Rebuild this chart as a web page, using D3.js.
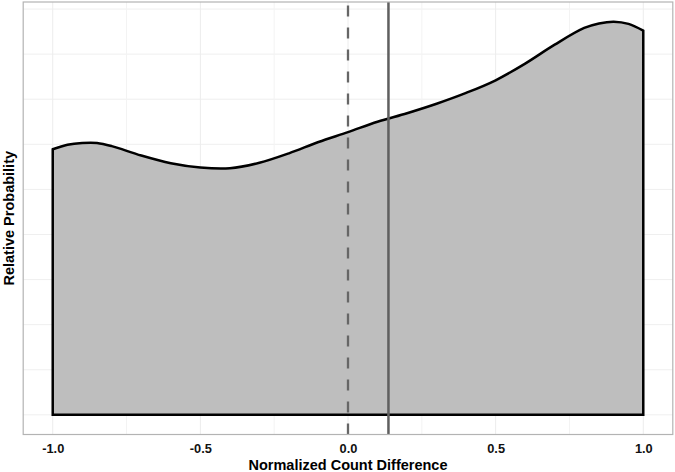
<!DOCTYPE html>
<html>
<head>
<meta charset="utf-8">
<script src="https://cdn.jsdelivr.net/npm/d3@7"></script>
<style>
  html, body { margin: 0; padding: 0; background: #ffffff; }
  svg { display: block; }
  text { font-family: "Liberation Sans", Arial, Helvetica, sans-serif; font-weight: bold; }
</style>
</head>
<body>
<svg id="chart" width="675" height="472"></svg>
<script>
// ---- data ----
const densX = [-1.0, -0.95, -0.9, -0.85, -0.8, -0.7, -0.6, -0.5, -0.4, -0.3, -0.2, -0.1, 0.0,
               0.1, 0.2, 0.3, 0.4, 0.5, 0.6, 0.7, 0.8, 0.85, 0.9, 0.95, 1.0];
const densY = [0.589, 0.599, 0.603, 0.603, 0.596, 0.575, 0.558, 0.5485, 0.547, 0.559, 0.580, 0.605, 0.627,
               0.650, 0.669, 0.690, 0.714, 0.742, 0.779, 0.821, 0.858, 0.868, 0.872, 0.867, 0.852];
const xTicks = [-1.0, -0.5, 0.0, 0.5, 1.0];
const xTickLabels = ["-1.0", "-0.5", "0.0", "0.5", "1.0"];
const xMinorTicks = [-0.75, -0.25, 0.25, 0.75];
const refDashed = 0.0;
const refSolid = 0.137;
const xTitle = "Normalized Count Difference";
const yTitle = "Relative Probability";

// ---- layout ----
const W = 675, H = 472;
const panel = { left: 23.2, right: 672.8, top: 2, bottom: 434.5 };

const svg = d3.select("#chart");

const x = d3.scaleLinear().domain([-1.1, 1.1]).range([panel.left, panel.right]);
const ymax = d3.max(densY);
const y = d3.scaleLinear().domain([-0.05 * ymax, 1.05 * ymax]).range([panel.bottom, panel.top]);

const pts = densX.map((d, i) => ({ x: d, y: densY[i] }));

// grid
const grid = svg.append("g");
grid.selectAll("line.hy").data(y.ticks(10).filter(v => v >= 0 && v <= 1.05 * ymax))
  .join("line")
  .attr("x1", panel.left).attr("x2", panel.right)
  .attr("y1", d => y(d)).attr("y2", d => y(d))
  .attr("stroke", "#efefef").attr("stroke-width", 1);
grid.selectAll("line.vminor").data(xMinorTicks)
  .join("line")
  .attr("x1", d => x(d)).attr("x2", d => x(d))
  .attr("y1", panel.top).attr("y2", panel.bottom)
  .attr("stroke", "#f3f3f3").attr("stroke-width", 1);
grid.selectAll("line.vmajor").data(xTicks)
  .join("line")
  .attr("class", "vmajor")
  .attr("x1", d => x(d)).attr("x2", d => x(d))
  .attr("y1", panel.top).attr("y2", panel.bottom)
  .attr("stroke", "#ececec").attr("stroke-width", 1);

// density area
const area = d3.area()
  .x(d => x(d.x))
  .y0(y(0))
  .y1(d => y(d.y))
  .curve(d3.curveCatmullRom.alpha(0.5));

svg.append("path")
  .datum(pts)
  .attr("d", area)
  .attr("fill", "#bebebe")
  .attr("stroke", "#000")
  .attr("stroke-width", 2.5)
  .attr("stroke-linejoin", "miter");

// reference lines (drawn bottom -> top so dashes start at the bottom)
svg.append("line")
  .attr("x1", x(refDashed)).attr("x2", x(refDashed))
  .attr("y1", panel.bottom).attr("y2", panel.top)
  .attr("stroke", "#666666").attr("stroke-width", 2.3)
  .attr("stroke-dasharray", "11,11");
svg.append("line")
  .attr("x1", x(refSolid)).attr("x2", x(refSolid))
  .attr("y1", panel.bottom).attr("y2", panel.top)
  .attr("stroke", "#5f5f5f").attr("stroke-width", 2.5);

// panel border
svg.append("rect")
  .attr("x", panel.left).attr("y", panel.top)
  .attr("width", panel.right - panel.left).attr("height", panel.bottom - panel.top)
  .attr("fill", "none").attr("stroke", "#b3b3b3").attr("stroke-width", 1.2);

// x axis (labels only, no ticks)
const xAxis = d3.axisBottom(x).tickValues(xTicks)
  .tickFormat((d, i) => xTickLabels[i]).tickSize(0).tickPadding(0);
const gx = svg.append("g").attr("transform", `translate(0,${panel.bottom})`).call(xAxis);
gx.select(".domain").remove();
gx.selectAll("text")
  .attr("y", 18.2).attr("dy", null)
  .attr("font-size", "12.8px")
  .attr("font-family", "'Liberation Sans', Arial, sans-serif")
  .attr("font-weight", "bold")
  .attr("fill", "#111");

// titles
svg.append("text")
  .attr("x", (panel.left + panel.right) / 2).attr("y", 469.5)
  .attr("text-anchor", "middle")
  .attr("font-size", "14.5px").attr("fill", "#000")
  .text(xTitle);
svg.append("text")
  .attr("transform", `translate(13.5,${(panel.top + panel.bottom) / 2}) rotate(-90)`)
  .attr("text-anchor", "middle")
  .attr("font-size", "14.5px").attr("fill", "#000")
  .text(yTitle);
</script>
</body>
</html>
